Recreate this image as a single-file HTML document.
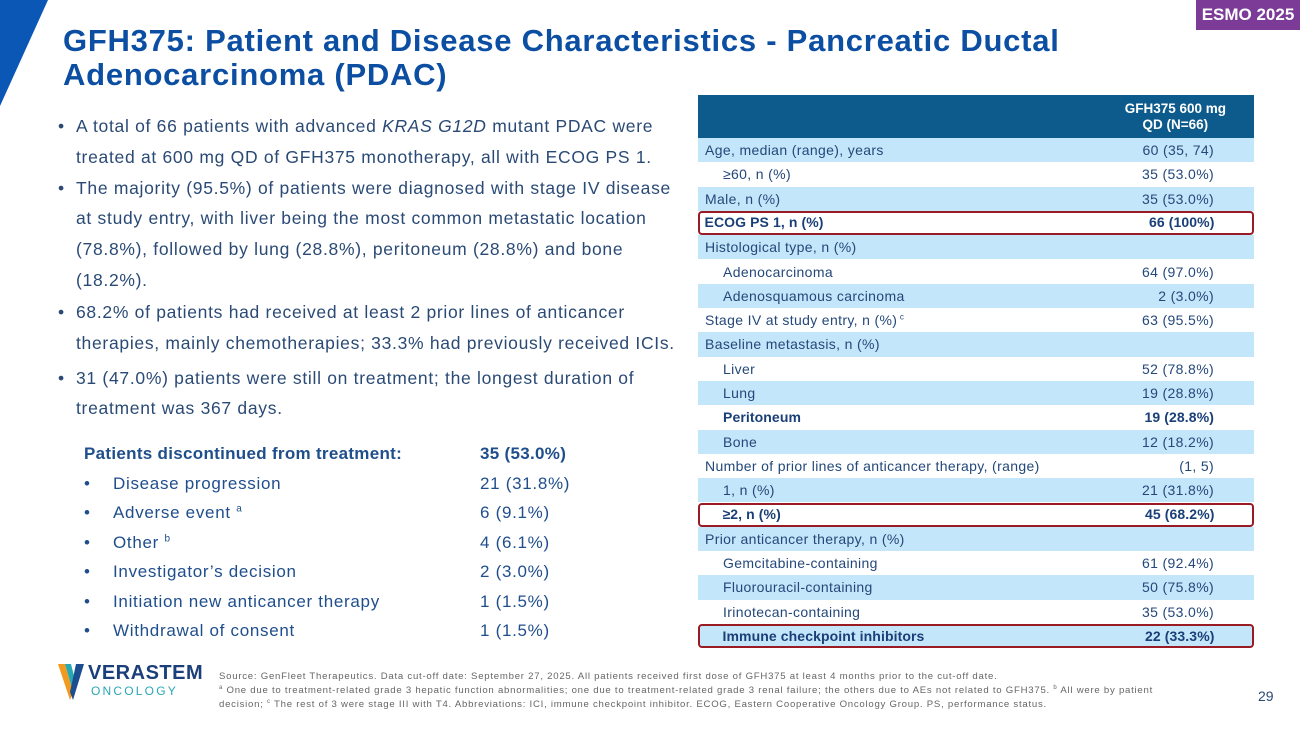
<!DOCTYPE html>
<html><head><meta charset="utf-8">
<style>
*{margin:0;padding:0;box-sizing:border-box}
body{width:1300px;height:731px;background:#fff;position:relative;overflow:hidden;font-family:"Liberation Sans",sans-serif}
.abs{position:absolute;white-space:nowrap}
.title{left:63px;font-size:31px;font-weight:bold;color:#0b4ea2;letter-spacing:0.75px}
.b{left:58px;font-size:17.5px;color:#2a4a75}
.bl{left:76px;font-size:17.5px;color:#2a4a75;letter-spacing:0.7px}
.dl{font-size:17px;color:#1f4e8c;letter-spacing:0.7px}
.row{position:absolute;left:698px;width:556px;height:24.3px;font-size:14px;color:#24487a;letter-spacing:0.35px}
.row span{position:absolute;top:4px}
.fn{left:219px;font-size:9.6px;color:#666;letter-spacing:0.75px}
.box{border:2.5px solid #9b1b24;border-radius:4px}
</style></head><body>
<svg class="abs" style="left:0;top:0" width="50" height="110"><polygon points="0,0 48,0 0,106" fill="#0b57b5"/></svg>
<div class="abs" style="left:1196px;top:0;width:104px;height:30px;background:#7b3b97;color:#fff;font-weight:bold;font-size:17px;line-height:30px;text-align:center">ESMO 2025</div>
<div class="abs title" style="top:24px;line-height:34px">GFH375: Patient and Disease Characteristics - Pancreatic Ductal<br>Adenocarcinoma (PDAC)</div>

<div>
<div class="abs b" style="top:116px">•</div><div class="abs bl" style="top:116px">A total of 66 patients with advanced <i>KRAS G12D</i> mutant PDAC were</div>
<div class="abs bl" style="top:147px">treated at 600 mg QD of GFH375 monotherapy, all with ECOG PS 1.</div>
<div class="abs b" style="top:178px">•</div><div class="abs bl" style="top:178px">The majority (95.5%) of patients were diagnosed with stage IV disease</div>
<div class="abs bl" style="top:208px">at study entry, with liver being the most common metastatic location</div>
<div class="abs bl" style="top:239px">(78.8%), followed by lung (28.8%), peritoneum (28.8%) and bone</div>
<div class="abs bl" style="top:270px">(18.2%).</div>
<div class="abs b" style="top:302px">•</div><div class="abs bl" style="top:302px">68.2% of patients had received at least 2 prior lines of anticancer</div>
<div class="abs bl" style="top:333px">therapies, mainly chemotherapies; 33.3% had previously received ICIs.</div>
<div class="abs b" style="top:368px">•</div><div class="abs bl" style="top:368px">31 (47.0%) patients were still on treatment; the longest duration of</div>
<div class="abs bl" style="top:398px">treatment was 367 days.</div>
</div>

<div>
<div class="abs dl" style="left:84px;top:444px;font-weight:bold;letter-spacing:0.3px">Patients discontinued from treatment:</div>
<div class="abs dl" style="left:480px;top:444px;font-weight:bold;letter-spacing:0.3px">35 (53.0%)</div>
<div id="dlist"></div>
</div>

<div class="abs" style="left:698px;top:95px;width:556px;height:43px;background:#0c5b8c;color:#fff;font-weight:bold;font-size:13.5px">
<div style="position:absolute;right:28px;top:6px;text-align:center;line-height:16px">GFH375 600 mg<br>QD (N=66)</div></div>
<div id="tbl"></div>

<div class="abs" style="left:58px;top:662px;width:152px;height:40px">
<svg width="30" height="40" style="position:absolute;left:0;top:0"><polygon points="0,2 7,2 15,30 12,38" fill="#f29a1f"/><polygon points="7,2 13,2 18,22 15,30" fill="#27a9b5"/><polygon points="18,2 26,2 15,38 12,30" fill="#1b4d8f"/></svg>
<div style="position:absolute;left:30px;top:0;font-size:20px;font-weight:bold;color:#1b3f7a;letter-spacing:0.5px">VERASTEM</div>
<div style="position:absolute;left:33px;top:22px;font-size:12px;color:#2aa7b3;letter-spacing:2.2px">ONCOLOGY</div>
</div>
<div class="abs fn" style="top:671px">Source: GenFleet Therapeutics. Data cut-off date: September 27, 2025. All patients received first dose of GFH375 at least 4 months prior to the cut-off date.</div>
<div class="abs fn" style="top:685px"><sup style="font-size:6px">a</sup> One due to treatment-related grade 3 hepatic function abnormalities; one due to treatment-related grade 3 renal failure; the others due to AEs not related to GFH375. <sup style="font-size:6px">b</sup> All were by patient</div>
<div class="abs fn" style="top:699px">decision; <sup style="font-size:6px">c</sup> The rest of 3 were stage III with T4. Abbreviations: ICI, immune checkpoint inhibitor. ECOG, Eastern Cooperative Oncology Group. PS, performance status.</div>
<div class="abs" style="left:1258px;top:688px;font-size:14px;color:#2a4a75">29</div>

<script>
const discLabels=["Disease progression","Adverse event <sup style='font-size:10px'>a</sup>","Other <sup style='font-size:10px'>b</sup>","Investigator’s decision","Initiation new anticancer therapy","Withdrawal of consent"];
const discValues=["21 (31.8%)","6 (9.1%)","4 (6.1%)","2 (3.0%)","1 (1.5%)","1 (1.5%)"];
const rowLabels=["Age, median (range), years","≥60, n (%)","Male, n (%)","ECOG PS 1, n (%)","Histological type, n (%)","Adenocarcinoma","Adenosquamous carcinoma","Stage IV at study entry, n (%)<sup style='font-size:8px'> c</sup>","Baseline metastasis, n (%)","Liver","Lung","Peritoneum","Bone","Number of prior lines of anticancer therapy, (range)","1, n (%)","≥2, n (%)","Prior anticancer therapy, n (%)","Gemcitabine-containing","Fluorouracil-containing","Irinotecan-containing","Immune checkpoint inhibitors"];
const rowValues=["60 (35, 74)","35 (53.0%)","35 (53.0%)","66 (100%)","","64 (97.0%)","2 (3.0%)","63 (95.5%)","","52 (78.8%)","19 (28.8%)","19 (28.8%)","12 (18.2%)","(1, 5)","21 (31.8%)","45 (68.2%)","","61 (92.4%)","50 (75.8%)","35 (53.0%)","22 (33.3%)"];
const rowIndent=[0,1,0,0,0,1,1,0,0,1,1,1,1,0,1,1,0,1,1,1,1];
const rowBold=[0,0,0,1,0,0,0,0,0,0,0,1,0,0,0,1,0,0,0,0,1];
const rowBoxed=[0,0,0,1,0,0,0,0,0,0,0,0,0,0,0,1,0,0,0,0,1];
const dl=document.getElementById('dlist');
discLabels.forEach((l,i)=>{
  const y=474+i*29.4;
  const r=document.createElement('div');
  
  
  r.innerHTML=`<div class="abs dl" style="left:84px;top:${y}px">•</div><div class="abs dl" style="left:113px;top:${y}px">${l}</div><div class="abs dl" style="left:480px;top:${y}px">${discValues[i]}</div>`;
  dl.appendChild(r);
});
const t=document.getElementById('tbl');
rowLabels.forEach((l,i)=>{
  const r=document.createElement('div');
  
  
  r.className='row'+(rowBoxed[i]?' box':'');
  r.style.top=(138+i*24.3)+'px';
  r.style.background=i%2===0?'#c4e6fa':'#fff';
  if(rowBold[i]){r.style.fontWeight='bold';r.style.color='#1a3f78';r.style.letterSpacing='0.1px';}
  const off=rowBoxed[i]?-2.5:0;
  r.innerHTML=`<span style="left:${(rowIndent[i]?25:7)+off}px;top:${4+off}px">${l}</span><span style="right:${40+off}px;top:${4+off}px">${rowValues[i]}</span>`;
  t.appendChild(r);
});
</script>
</body></html>
